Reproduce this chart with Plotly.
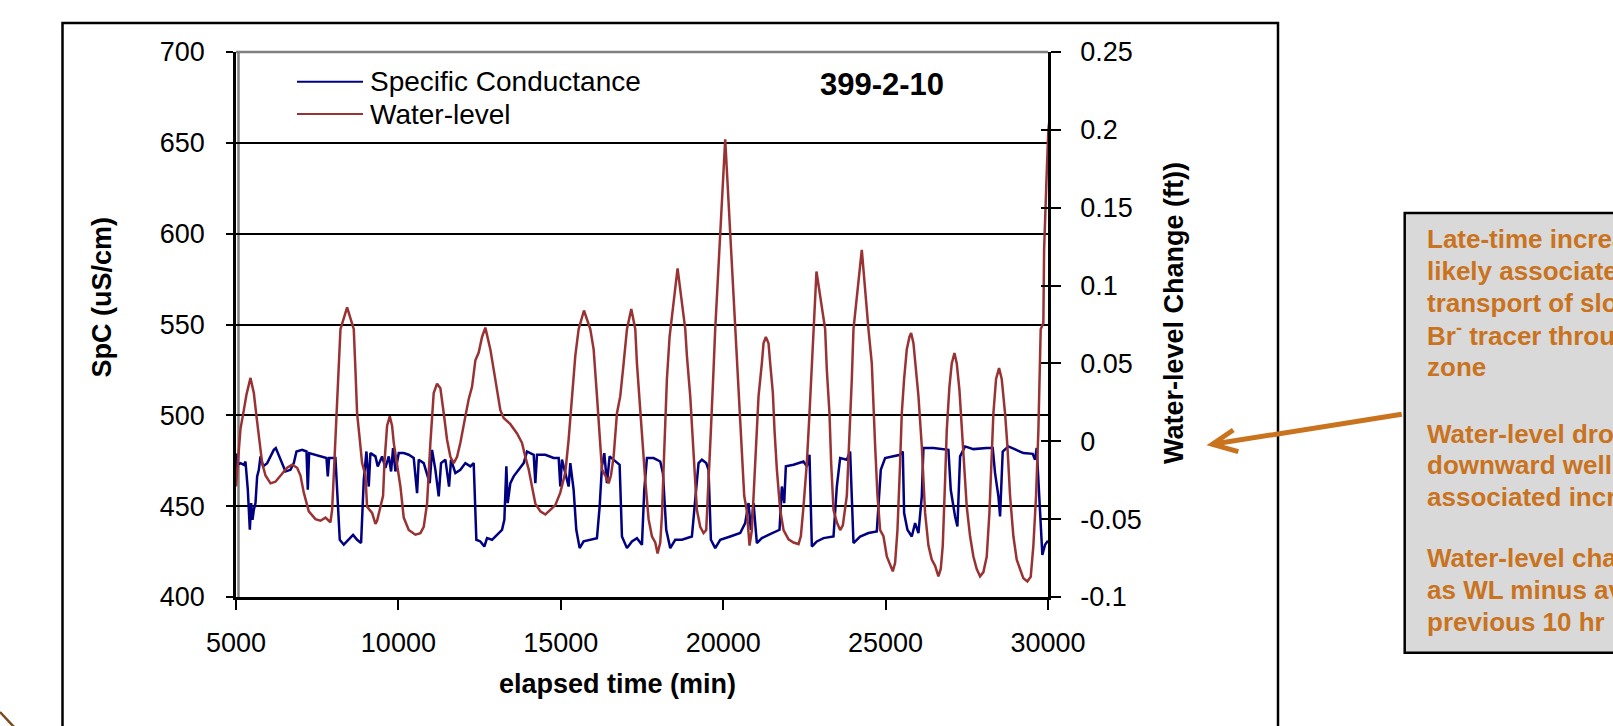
import plotly.graph_objects as go

# ---- data -------------------------------------------------------------
spc_time = [5000, 5005, 5036, 5138, 5241, 5292, 5364, 5426, 5467, 5508, 5549, 5600, 5651, 5703,
            5754, 5836, 5959, 6062, 6164, 6226, 6318, 6421, 6523, 6677, 6780, 6862, 7036, 7170,
            7210, 7252, 7446, 7651, 7785, 7826, 7867, 8062, 8113, 8195, 8318, 8472, 8605, 8728,
            8851, 8934, 9016, 9087, 9139, 9293, 9364, 9498, 9600, 9703, 9775, 9836, 9908, 10011,
            10164, 10318, 10472, 10575, 10626, 10780, 10964, 11036, 11139, 11241, 11313, 11447,
            11559, 11621, 11754, 11908, 12062, 12216, 12318, 12400, 12523, 12646, 12729, 12883,
            13036, 13190, 13262, 13324, 13365, 13447, 13549, 13703, 13857, 13960, 14165, 14216,
            14267, 14524, 14780, 14934, 14985, 15036, 15241, 15293, 15395, 15477, 15580, 15703,
            15908, 16113, 16196, 16267, 16339, 16421, 16503, 16678, 16811, 16883, 17037, 17190,
            17344, 17498, 17570, 17652, 17857, 18062, 18144, 18246, 18370, 18523, 18729, 19036,
            19139, 19241, 19344, 19477, 19549, 19621, 19754, 19908, 20216, 20524, 20677, 20780,
            20852, 20934, 21036, 21190, 21395, 21601, 21734, 21806, 21878, 21929, 22165, 22472,
            22575, 22657, 22729, 22883, 23088, 23396, 23498, 23601, 23806, 23908, 24011, 24216,
            24472, 24729, 24852, 24985, 25242, 25447, 25529, 25570, 25672, 25806, 25908, 26011,
            26114, 26165, 26473, 26780, 26934, 27006, 27067, 27139, 27211, 27293, 27447, 27703,
            28114, 28298, 28370, 28473, 28524, 28606, 28780, 29037, 29242, 29529, 29601, 29652,
            29704, 29775, 29826, 29908, 30000]
spc_value = [468, 479, 472.8, 473.7, 472.8, 474.6, 459, 437, 451.7, 442.5, 448, 451.7, 466.4, 470,
             477.4, 471.9, 473.7, 477.4, 481, 482, 478.3, 473.7, 469.1, 470, 473.7, 480.1, 481, 480.1,
             459, 479.2, 478.3, 477.4, 476.5, 466.4, 476.5, 476.5, 460.8, 431.5, 428.8, 431.5, 434.2, 431.5,
             429.7, 464.5, 480.1, 460.8, 479.2, 477.4, 471.9, 477.4, 471, 477.4, 469.1, 482, 469.1, 479.2,
             479.2, 478.3, 476.5, 457.2, 475.6, 473.7, 462.7, 481, 470, 455.4, 473.7, 475.6,
             460.8, 475.6, 468.2, 470, 473.7, 471.9, 473.7, 431.5, 430.6, 427.8, 432.4, 431.5,
             434.2, 437, 442.5, 471.9, 451.7, 462.7, 466.4, 470, 473.7, 480.1, 478.3, 462.7,
             478.3, 478.3, 476.5, 476.5, 460.8, 475.6, 460.8, 473.7, 459, 437, 426.9, 430.6,
             431.5, 432.4, 449.8, 471.9, 479.2, 462.7, 477.4, 474.6, 472.8, 433.3, 426.9, 430.6,
             432.4, 428.7, 459, 476.5, 476.5, 474.6, 468.2, 437, 426.9, 431.5, 431.5, 433.3,
             451.7, 473.7, 475.6, 473.7, 470, 431.5, 426.9, 431.5, 433.3, 435.2, 440.7, 451.7,
             437, 451.7, 429.7, 432.4, 434.2, 436.1, 437, 460.8, 451.7, 471.9, 472.8, 474.6,
             471.9, 478.3, 427.8, 430.6, 432.4, 433.3, 460.8, 476.5, 475.6, 480.1, 429.7, 433.3,
             435.2, 436.1, 470, 476.5, 477.7, 478.3, 480.1, 446.2, 437, 433.3, 440.7, 435.2,
             455.4, 482, 482, 481.4, 481, 459, 451.7, 444.3, 438.8, 477.4, 482.9, 481.4,
             482, 482, 468.2, 455.4, 444.3, 480.1, 482.9, 481, 479.2, 478.8, 475.6, 482,
             462.7, 437, 423.2, 428.7, 431]

wl_time = [5000, 5036, 5138, 5241, 5323, 5446, 5549, 5631, 5703, 5754, 5805, 5908, 6062, 6215,
           6369, 6574, 6728, 6882, 6985, 7087, 7241, 7446, 7600, 7754, 7908, 7959, 8010, 8062,
           8133, 8216, 8421, 8626, 8677, 8728, 8811, 8882, 8985, 9036, 9190, 9293, 9344, 9446,
           9528, 9570, 9652, 9734, 9805, 9857, 9959, 10062, 10164, 10318, 10523, 10677, 10780,
           10882, 10985, 11087, 11190, 11293, 11396, 11498, 11600, 11703, 11806, 11908, 12062,
           12164, 12267, 12370, 12472, 12575, 12677, 12831, 12934, 13036, 13139, 13241, 13447,
           13652, 13806, 13908, 14011, 14113, 14216, 14370, 14524, 14677, 14831, 14985, 15139,
           15241, 15344, 15447, 15549, 15713, 15908, 16011, 16114, 16216, 16267, 16370, 16473,
           16544, 16626, 16729, 16831, 16934, 17037, 17170, 17293, 17344, 17446, 17498, 17600,
           17703, 17805, 17908, 17980, 18062, 18113, 18164, 18216, 18267, 18349, 18595, 18832,
           18882, 18985, 19036, 19108, 19190, 19293, 19395, 19477, 19549, 19621, 19703, 19754,
           20062, 20370, 20441, 20503, 20575, 20647, 20729, 20811, 20883, 20934, 20985, 21036,
           21088, 21190, 21242, 21313, 21395, 21447, 21529, 21580, 21652, 21754, 21857, 22011,
           22165, 22319, 22390, 22472, 22575, 22657, 22729, 22780, 22872, 23139, 23190, 23272,
           23324, 23396, 23498, 23601, 23683, 23806, 23888, 23960, 24011, 24267, 24472, 24575,
           24678, 24750, 24832, 24934, 25037, 25139, 25221, 25293, 25365, 25447, 25498, 25570,
           25652, 25734, 25786, 25857, 25908, 26011, 26114, 26216, 26319, 26421, 26524, 26626,
           26698, 26760, 26832, 26883, 26965, 27037, 27119, 27191, 27273, 27345, 27416, 27498,
           27601, 27703, 27806, 27909, 28011, 28114, 28196, 28268, 28319, 28401, 28493, 28575,
           28678, 28750, 28832, 28934, 29037, 29139, 29242, 29365, 29468, 29550, 29632, 29704,
           29775, 29857, 29880, 29950, 30010, 30110]
wl_value = [-0.029, -0.020, 0.008, 0.020, 0.030, 0.0407, 0.031, 0.016, 0.005, -0.005, -0.014, -0.022,
            -0.027, -0.026, -0.022, -0.017, -0.015, -0.017, -0.022, -0.033, -0.045, -0.050, -0.051,
            -0.049, -0.052, -0.044, -0.022, 0.003, 0.040, 0.072, 0.086, 0.072, 0.046, 0.018, 0.001,
            -0.014, -0.022, -0.042, -0.046, -0.053, -0.051, -0.042, -0.035, -0.014, 0.010, 0.016,
            0.010, -0.001, -0.014, -0.029, -0.049, -0.057, -0.060, -0.059, -0.055, -0.040, -0.001,
            0.031, 0.037, 0.034, 0.018, 0.001, -0.010, -0.014, -0.010, -0.001, 0.016, 0.027, 0.035,
            0.052, 0.057, 0.067, 0.073, 0.059, 0.046, 0.033, 0.020, 0.015, 0.011, 0.005, -0.001,
            -0.010, -0.018, -0.029, -0.040, -0.045, -0.047, -0.044, -0.041, -0.033, -0.020, 0.001,
            0.029, 0.055, 0.072, 0.084, 0.072, 0.059, 0.029, 0.001, -0.018, -0.022, -0.027, -0.022,
            -0.010, 0.018, 0.029, 0.050, 0.072, 0.085, 0.072, 0.050, 0.018, 0.001, -0.025, -0.050,
            -0.061, -0.065, -0.072, -0.065, -0.048, -0.018, 0.018, 0.040, 0.067, 0.111, 0.072,
            0.055, 0.029, 0.012, -0.018, -0.044, -0.055, -0.059, -0.057, -0.029, 0.007, 0.046, 0.072,
            0.194, 0.072, 0.040, 0.018, -0.014, -0.035, -0.045, -0.067, -0.057, -0.035, -0.014, 0.012,
            0.029, 0.050, 0.063, 0.067, 0.063, 0.050, 0.031, 0.007, -0.018, -0.044, -0.057, -0.063,
            -0.065, -0.066, -0.061, -0.042, -0.014, 0.018, 0.050, 0.072, 0.109, 0.072, 0.046, 0.018,
            -0.014, -0.044, -0.052, -0.057, -0.054, -0.035, 0.001, 0.040, 0.072, 0.123, 0.072, 0.050,
            -0.003, -0.035, -0.057, -0.061, -0.074, -0.080, -0.0835, -0.078, -0.057, -0.014, 0.018, 0.040,
            0.059, 0.067, 0.0696, 0.063, 0.052, 0.029, -0.003, -0.046, -0.067, -0.076, -0.080, -0.0867,
            -0.082, -0.067, -0.025, 0.007, 0.035, 0.050, 0.0567, 0.050, 0.033, 0.008, -0.014, -0.042,
            -0.061, -0.074, -0.082, -0.0867, -0.084, -0.074, -0.046, -0.014, 0.018, 0.040, 0.047, 0.040,
            0.018, -0.003, -0.035, -0.061, -0.076, -0.082, -0.088, -0.090, -0.087, -0.067, -0.035, 0.007,
            0.072, 0.076, 0.123, 0.166, 0.200, 0.2175]

x_ticks = [5000, 10000, 15000, 20000, 25000, 30000]
spc_ticks = [400, 450, 500, 550, 600, 650, 700]
wl_ticks = [-0.1, -0.05, 0, 0.05, 0.1, 0.15, 0.2, 0.25]
wl_ticktext = ["-0.1", "-0.05", "0", "0.05", "0.1", "0.15", "0.2", "0.25"]

series_names = ["Specific Conductance", "Water-level"]
series_colors = ["#000080", "#993333"]
well_id = "399-2-10"
note_lines = [
    "Late-time increase",
    "likely associated",
    "transport of slow",
    "Br<sup>-</sup> tracer through",
    "zone",
    "Water-level drop",
    "downward well",
    "associated increase",
    "Water-level change",
    "as WL minus avg",
    "previous 10 hr",
]

# ---- geometry (figure pixels) -----------------------------------------
W, H = 1613, 726
L, R, T, B = 236, 1048, 52, 597
PW, PH = R - L, B - T


def px(xp):
    return (xp - L) / PW


def py(yp):
    return (B - yp) / PH


FONT = "Liberation Sans, Arial, sans-serif"
ORANGE = "#C9731F"

fig = go.Figure()
fig.add_trace(go.Scatter(x=spc_time, y=spc_value, mode="lines", name=series_names[0],
                         line=dict(color=series_colors[0], width=2.5), yaxis="y",
                         showlegend=False))
fig.add_trace(go.Scatter(x=wl_time, y=wl_value, mode="lines", name=series_names[1],
                         line=dict(color=series_colors[1], width=2.5), yaxis="y2",
                         showlegend=False))
# empty trace that carries the inner half of the right-hand tick marks
fig.add_trace(go.Scatter(x=[None], y=[None], yaxis="y3", showlegend=False, hoverinfo="skip"))

tickfont = dict(family=FONT, size=27, color="black")

fig.update_layout(
    width=W, height=H,
    margin=dict(l=L, r=W - R, t=T, b=H - B, pad=0),
    paper_bgcolor="white", plot_bgcolor="white",
    xaxis=dict(range=[5000, 30000], tickvals=x_ticks, ticktext=[str(v) for v in x_ticks],
               ticks="outside", ticklen=10, tickwidth=2, tickcolor="black",
               showline=True, linecolor="black", linewidth=2.5, showgrid=False, zeroline=False,
               tickfont=tickfont, ticklabelstandoff=10),
    yaxis=dict(range=[400, 700], tickvals=spc_ticks, ticktext=[str(v) for v in spc_ticks],
               ticks="outside", ticklen=7, tickwidth=2, tickcolor="black",
               showline=True, linecolor="black", linewidth=2.5,
               showgrid=True, gridcolor="black", gridwidth=2, zeroline=False,
               tickfont=tickfont, ticklabelstandoff=16),
    yaxis2=dict(range=[-0.1, 0.25], overlaying="y", side="right", tickvals=wl_ticks,
                ticktext=wl_ticktext, ticks="outside", ticklen=10, tickwidth=2, tickcolor="black",
                showline=True, linecolor="black", linewidth=2.5, showgrid=False, zeroline=False,
                tickfont=tickfont, ticklabelstandoff=14),
    yaxis3=dict(range=[-0.1, 0.25], overlaying="y", side="right", tickvals=wl_ticks,
                ticks="inside", ticklen=7, tickwidth=2, tickcolor="black",
                showticklabels=False, showline=False, showgrid=False, zeroline=False),
    showlegend=False,
)

shapes = []
# outer chart frame
shapes.append(dict(type="rect", xref="paper", yref="paper", x0=px(62.5), x1=px(1278),
                   y0=py(780), y1=py(23), line=dict(color="black", width=2.5), layer="below"))
# grey plot-area border pieces
shapes.append(dict(type="line", xref="paper", yref="paper", x0=px(238.5), x1=px(238.5),
                   y0=0, y1=1, line=dict(color="#808080", width=2.5), layer="below"))
shapes.append(dict(type="line", xref="paper", yref="paper", x0=0, x1=1, y0=1, y1=1,
                   line=dict(color="#808080", width=2.5), layer="above"))
# legend keys
for i, yk in enumerate([81.7, 114.0]):
    shapes.append(dict(type="line", xref="paper", yref="paper", x0=px(297), x1=px(363),
                       y0=py(yk), y1=py(yk), line=dict(color=series_colors[i], width=2)))
# note box
shapes.append(dict(type="rect", xref="paper", yref="paper", x0=px(1404.7), x1=px(1700),
                   y0=py(652.8), y1=py(213), fillcolor="#D9D9D9",
                   line=dict(color="black", width=2.5)))
# pointer arrow from the note box
tail, tip = (1401.7, 414.3), (1212.3, 444.3)
arm1, arm2 = (1233.3, 430.0), (1238.3, 451.7)
path = (f"M {px(tail[0])} {py(tail[1])} L {px(tip[0])} {py(tip[1])} "
        f"M {px(arm1[0])} {py(arm1[1])} L {px(tip[0])} {py(tip[1])} L {px(arm2[0])} {py(arm2[1])}")
shapes.append(dict(type="path", xref="paper", yref="paper", path=path,
                   line=dict(color=ORANGE, width=5)))
# corner stroke of a neighbouring slide element
shapes.append(dict(type="line", xref="paper", yref="paper", x0=px(0), y0=py(712),
                   x1=px(14), y1=py(727), line=dict(color="#7B4A1A", width=2.5)))
fig.update_layout(shapes=shapes)

ann = []
ann.append(dict(text=f"<b>{well_id}</b>", x=px(881.7), y=py(84.2), xref="paper", yref="paper",
                showarrow=False, xanchor="center", yanchor="middle",
                font=dict(family=FONT, size=31, color="black")))
ann.append(dict(text="<b>SpC (uS/cm)</b>", x=px(101), y=py(297.5), xref="paper", yref="paper",
                showarrow=False, textangle=-90, xanchor="center", yanchor="middle",
                font=dict(family=FONT, size=27, color="black")))
ann.append(dict(text="<b>Water-level Change (ft))</b>", x=px(1174), y=py(313), xref="paper",
                yref="paper", showarrow=False, textangle=-90, xanchor="center", yanchor="middle",
                font=dict(family=FONT, size=27, color="black")))
ann.append(dict(text="<b>elapsed time (min)</b>", x=px(617), y=py(684), xref="paper",
                yref="paper", showarrow=False, xanchor="center", yanchor="middle",
                font=dict(family=FONT, size=27, color="black")))
for i, yk in enumerate([81.7, 114.0]):
    ann.append(dict(text=series_names[i], x=px(368), y=py(yk), xref="paper", yref="paper",
                    showarrow=False, xanchor="left", yanchor="middle",
                    font=dict(family=FONT, size=28, color="black")))
note_y = [239.3, 271.1, 302.9, 334.7, 366.5, 433.7, 465.3, 496.7, 558.3, 590.0, 621.7]
for line_text, yk in zip(note_lines, note_y):
    ann.append(dict(text=f"<b>{line_text}</b>", x=px(1425), y=py(yk), xref="paper",
                    yref="paper", showarrow=False, xanchor="left", yanchor="middle",
                    font=dict(family=FONT, size=26, color=ORANGE)))
fig.update_layout(annotations=ann)

fig.write_html("out.html")
